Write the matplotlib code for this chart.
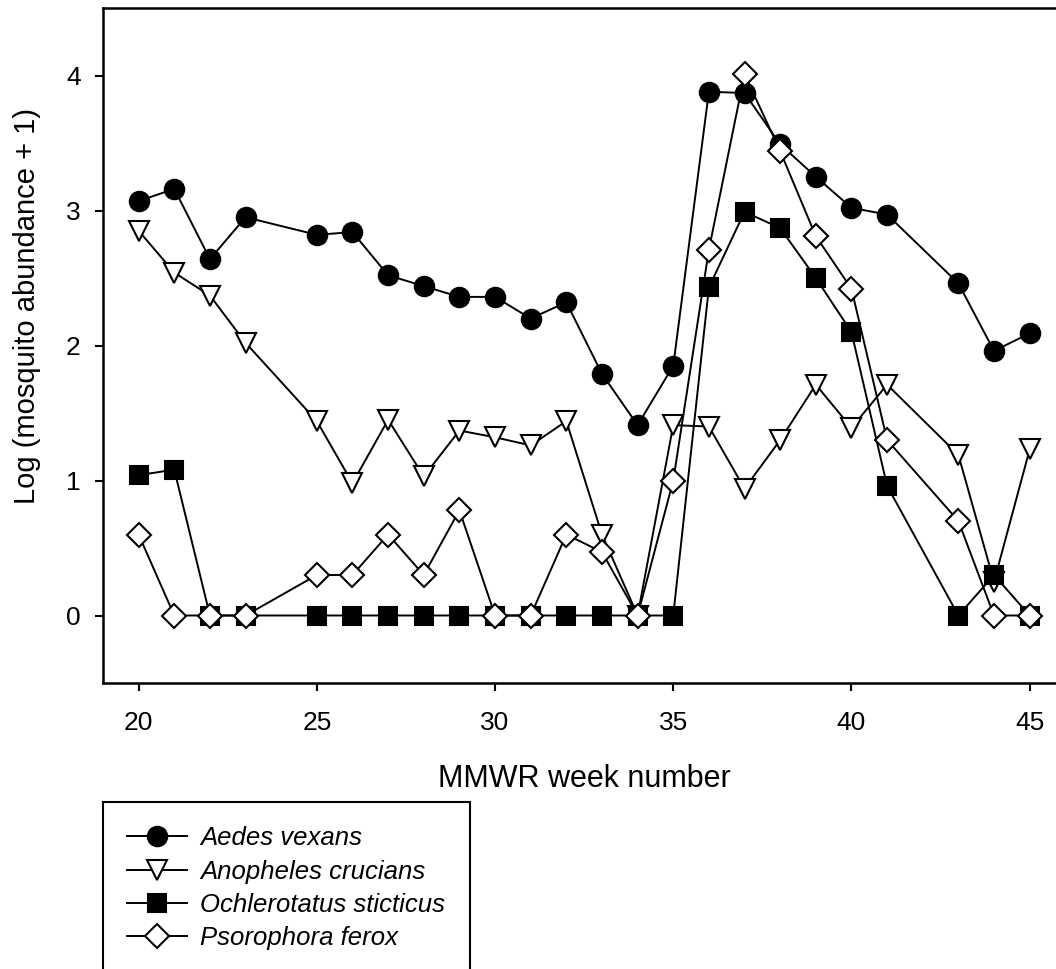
import matplotlib
matplotlib.use("Agg")
import matplotlib.pyplot as plt
import numpy as np

plt.rcParams["font.family"] = ["Liberation Sans", "DejaVu Sans"]

# -------- DATA --------
weeks_av = [20, 21, 22, 23, 25, 26, 27, 28, 29, 30, 31, 32, 33, 34, 35, 36, 37, 38, 39, 40, 41, 43, 44, 45]
aedes_vexans = [3.07, 3.16, 2.64, 2.95, 2.82, 2.84, 2.52, 2.44, 2.36, 2.36, 2.20, 2.32,
                1.79, 1.41, 1.85, 3.88, 3.87, 3.49, 3.25, 3.02, 2.97, 2.46, 1.96, 2.09]

weeks_ac = weeks_av
anopheles_crucians = [2.85, 2.54, 2.37, 2.02, 1.44, 0.98, 1.45, 1.03, 1.37, 1.32, 1.26, 1.44,
                      0.60, 0.0, 1.41, 1.40, 0.94, 1.30, 1.71, 1.39, 1.71, 1.19, 0.25, 1.23]

weeks_os = weeks_av
ochlerotatus_sticticus = [1.04, 1.08, 0.0, 0.0, 0.0, 0.0, 0.0, 0.0, 0.0, 0.0, 0.0, 0.0,
                          0.0, 0.0, 0.0, 2.43, 2.99, 2.87, 2.50, 2.10, 0.96, 0.0, 0.30, 0.0]

weeks_pf = weeks_av
psorophora_ferox = [0.60, 0.0, 0.0, 0.0, 0.30, 0.30, 0.60, 0.30, 0.78, 0.0, 0.0, 0.60,
                    0.47, 0.0, 1.00, 2.71, 4.01, 3.44, 2.81, 2.42, 1.30, 0.70, 0.0, 0.0]

species = ["Aedes vexans", "Anopheles crucians", "Ochlerotatus sticticus", "Psorophora ferox"]
x_ticks = [20, 25, 30, 35, 40, 45]
y_ticks = [0, 1, 2, 3, 4]

# -------- PLOT --------
fig = plt.figure(figsize=(10.56, 9.69), dpi=100)
ax = fig.add_axes([103 / 1056, 286 / 969, 962.3 / 1056, 675 / 969])

series = [
    (weeks_av, aedes_vexans, "o", "black", 14),
    (weeks_ac, anopheles_crucians, "v", "white", 15),
    (weeks_os, ochlerotatus_sticticus, "s", "black", 13),
    (weeks_pf, psorophora_ferox, "D", "white", 12.5),
]

handles = []
for i, (xs, ys, mk, fc, ms) in enumerate(series):
    h, = ax.plot(xs, ys, color="black", lw=1.4, marker=mk, markersize=ms,
                 markerfacecolor=fc, markeredgecolor="black", markeredgewidth=1.5,
                 label=species[i], zorder=3 + i, clip_on=False)
    handles.append(h)

ax.set_xlim(19, 46)
ax.set_ylim(-0.5, 4.5)
ax.set_xticks(x_ticks)
ax.set_yticks(y_ticks)

ax.spines["right"].set_visible(False)
for s in ["left", "bottom", "top"]:
    ax.spines[s].set_linewidth(1.8)

ax.tick_params(axis="both", direction="out", length=6, width=1.5, labelsize=19)
ax.tick_params(axis="x", pad=14)
ax.tick_params(axis="y", pad=10)

ax.set_xlabel("MMWR week number", fontsize=22, labelpad=21)
ax.set_ylabel("Log (mosquito abundance + 1)", fontsize=21)
ax.yaxis.set_label_coords(-0.064, 0.558)

leg = fig.legend(handles=handles, loc="upper left",
                 bbox_to_anchor=(103 / 1056, 1 - 802 / 969),
                 prop={"style": "italic", "size": 18.5},
                 handlelength=2.33, handletextpad=0.51, borderpad=0.95,
                 labelspacing=0.36, borderaxespad=0, fancybox=False,
                 framealpha=1, edgecolor="black")
leg.get_frame().set_linewidth(1.5)

plt.savefig("out.png", dpi=100)
